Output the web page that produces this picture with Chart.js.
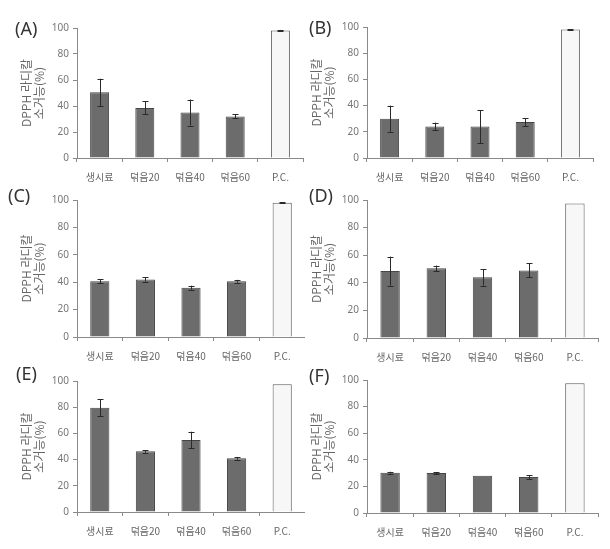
<!DOCTYPE html>
<html>
<head>
<meta charset="utf-8">
<script src="https://cdn.jsdelivr.net/npm/chart.js@4.4.1/dist/chart.umd.min.js"></script>
<style>
  html, body { margin: 0; padding: 0; background: #fff; }
  #wrap { position: relative; width: 610px; height: 549px; overflow: hidden; }
  .panel { position: absolute; }
  .tag { position: absolute; font-family: "Noto Sans", "DejaVu Sans", sans-serif; font-size: 18px; color: #333; line-height: 1; }
</style>
</head>
<body>
<div id="wrap"></div>
<script>
// categories + tick labels
var categories = ['생시료', '덖음20', '덖음40', '덖음60', 'P.C.'];
var yTitle = ['DPPH 라디칼', '소거능(%)'];
var yTicks = [0, 20, 40, 60, 80, 100];

// series values (mean) and error (+/-)
var valuesA = [50.5, 38.5, 35, 32, 98];
var errorsA = [10.5, 5, 10, 1.5, 0.5];
var valuesB = [30, 24, 24, 27.5, 98];
var errorsB = [10, 3, 12.5, 3, 0.5];
var valuesC = [40.7, 42, 36, 40.7, 98];
var errorsC = [1.5, 1.5, 1.5, 1, 0.5];
var valuesD = [48.5, 50.5, 44, 49, 97.5];
var errorsD = [10.5, 2, 6, 5, 0];
var valuesE = [79.5, 46.3, 55, 41, 97.5];
var errorsE = [6.5, 1, 6.3, 1, 0];
var valuesF = [30.3, 30, 28, 27, 97.5];
var errorsF = [0.7, 0.7, 0, 1.5, 0];

var panels = [
  { tag: '(A)', vals: valuesA, errs: errorsA, box: {x: 0,   y: 0,   w: 305, h: 183}, area: {l: 77,  t: 28,  r: 303, b: 158}, tagAt: [15, 19] },
  { tag: '(B)', vals: valuesB, errs: errorsB, box: {x: 305, y: 0,   w: 305, h: 183}, area: {l: 367, t: 27,  r: 593, b: 158}, tagAt: [309, 18] },
  { tag: '(C)', vals: valuesC, errs: errorsC, box: {x: 0,   y: 180, w: 305, h: 183}, area: {l: 77,  t: 200, r: 305, b: 337}, tagAt: [8, 186] },
  { tag: '(D)', vals: valuesD, errs: errorsD, box: {x: 305, y: 180, w: 305, h: 183}, area: {l: 367, t: 200, r: 598, b: 338}, tagAt: [309, 186] },
  { tag: '(E)', vals: valuesE, errs: errorsE, box: {x: 0,   y: 360, w: 305, h: 189}, area: {l: 77,  t: 381, r: 305, b: 512}, tagAt: [16, 364] },
  { tag: '(F)', vals: valuesF, errs: errorsF, box: {x: 305, y: 360, w: 305, h: 189}, area: {l: 367, t: 380, r: 598, b: 513}, tagAt: [309, 366] }
];

var Y_W = 57;   // y axis box width (title + ticks)

// draws +/- error whiskers through the y scale
var errBars = {
  id: 'errBars',
  afterDatasetsDraw: function (chart, args, opts) {
    var errs = opts.data || [];
    var meta = chart.getDatasetMeta(0);
    var ys = chart.scales.y;
    var vals = chart.data.datasets[0].data;
    var ctx = chart.ctx;
    ctx.save();
    ctx.strokeStyle = '#2a2a2a';
    ctx.lineWidth = 1;
    meta.data.forEach(function (el, i) {
      var e = errs[i];
      if (!e) return;
      var top = ys.getPixelForValue(vals[i] + e);
      var bot = ys.getPixelForValue(vals[i] - e);
      var x = Math.round(el.x) + 0.5;
      ctx.beginPath();
      ctx.moveTo(x, top); ctx.lineTo(x, bot);
      ctx.moveTo(x - 3, Math.round(top) + 0.5); ctx.lineTo(x + 3, Math.round(top) + 0.5);
      ctx.moveTo(x - 3, Math.round(bot) + 0.5); ctx.lineTo(x + 3, Math.round(bot) + 0.5);
      ctx.stroke();
    });
    ctx.restore();
  }
};

var wrap = document.getElementById('wrap');

panels.forEach(function (p, idx) {
  var div = document.createElement('div');
  div.className = 'panel';
  div.style.left = p.box.x + 'px';
  div.style.top = p.box.y + 'px';
  div.style.width = p.box.w + 'px';
  div.style.height = p.box.h + 'px';
  var cv = document.createElement('canvas');
  div.appendChild(cv);
  wrap.appendChild(div);

  var tag = document.createElement('div');
  tag.className = 'tag';
  tag.textContent = p.tag;
  tag.style.left = p.tagAt[0] + 'px';
  tag.style.top = p.tagAt[1] + 'px';
  wrap.appendChild(tag);

  var padL = p.area.l - p.box.x - Y_W;
  var padT = p.area.t - p.box.y;
  var padR = p.box.x + p.box.w - p.area.r;
  var xH = p.box.y + p.box.h - p.area.b;

  new Chart(cv, {
    type: 'bar',
    data: {
      labels: categories,
      datasets: [{
        data: p.vals,
        backgroundColor: ['#6c6c6c', '#6c6c6c', '#6c6c6c', '#6c6c6c', '#f7f7f7'],
        borderColor: ['#464646', '#464646', '#464646', '#464646', '#5a5a5a'],
        borderWidth: 1,
        categoryPercentage: 1,
        barPercentage: 0.42
      }]
    },
    options: {
      responsive: true,
      maintainAspectRatio: false,
      animation: false,
      layout: { padding: { left: padL, top: padT, right: padR, bottom: 0 } },
      plugins: {
        legend: { display: false },
        tooltip: { enabled: false },
        errBars: { data: p.errs }
      },
      scales: {
        x: {
          afterFit: function (s) { s.height = xH; },
          border: { color: '#8a8a8a', width: 1 },
          grid: { offset: true, drawOnChartArea: false, drawTicks: true, tickLength: 4, color: '#8a8a8a' },
          ticks: {
            color: '#666',
            padding: 9,
            font: { family: '"Noto Sans CJK KR", "Noto Sans", sans-serif', size: 10 }
          }
        },
        y: {
          min: 0, max: 100,
          afterFit: function (s) { s.width = Y_W; },
          afterBuildTicks: function (s) { s.ticks = yTicks.map(function (v) { return { value: v }; }); },
          border: { color: '#8a8a8a', width: 1 },
          grid: { drawOnChartArea: false, drawTicks: true, tickLength: 4, color: '#8a8a8a' },
          ticks: {
            color: '#777',
            padding: 4,
            font: { family: '"Noto Sans", "DejaVu Sans", sans-serif', size: 10 }
          },
          title: {
            display: true,
            text: yTitle,
            color: '#666',
            padding: 0,
            font: { family: '"Noto Sans CJK KR", sans-serif', size: 12, lineHeight: 1.1 }
          }
        }
      }
    },
    plugins: [errBars]
  });
});
</script>
</body>
</html>
